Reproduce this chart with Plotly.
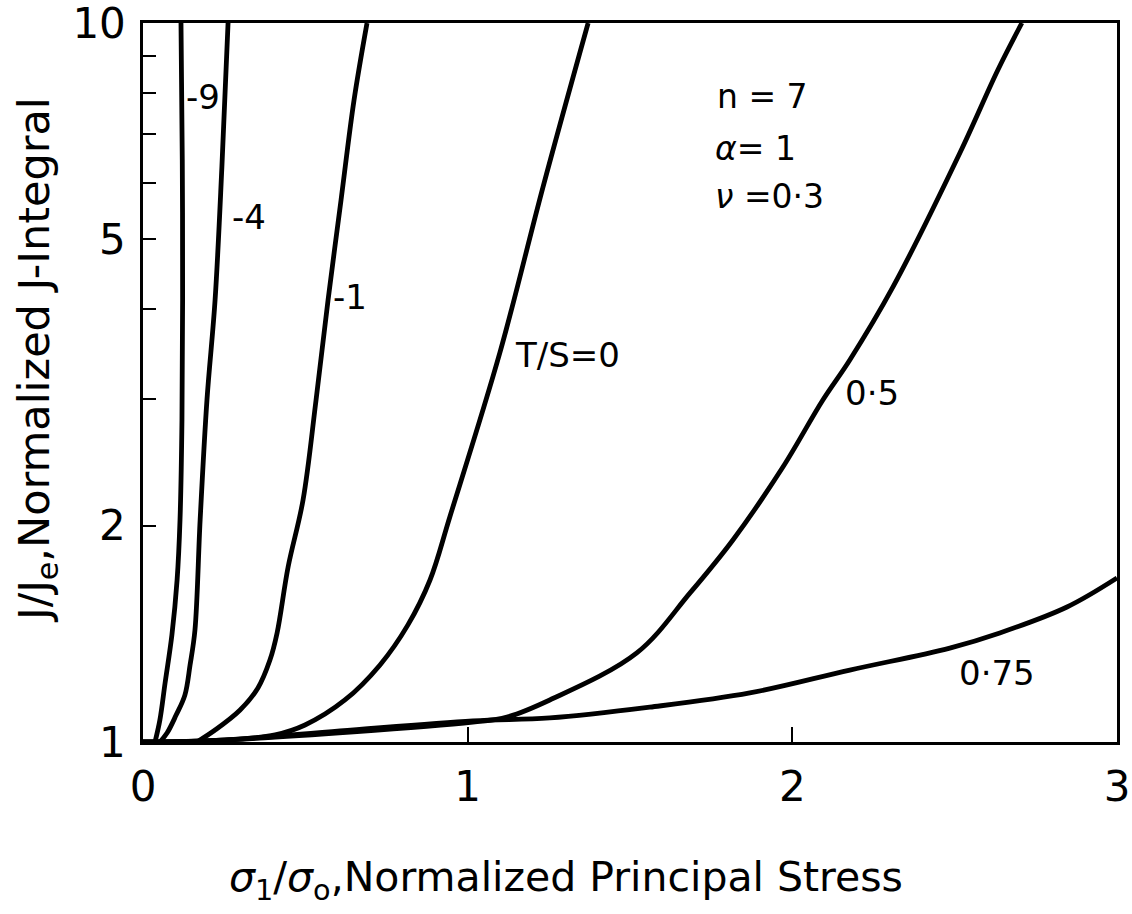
import plotly.graph_objects as go

# ---- data (x = sigma1/sigma0, y = J/Je) ----
x_m9 = [0.037, 0.052, 0.068, 0.089, 0.105, 0.114, 0.120, 0.122, 0.121, 0.117]
y_m9 = [1.0, 1.073, 1.208, 1.409, 1.680, 2.036, 2.804, 4.119, 6.449, 10.0]

x_m4 = [0.052, 0.074, 0.102, 0.129, 0.145, 0.160, 0.176, 0.197, 0.222, 0.243, 0.262]
y_m4 = [1.0, 1.029, 1.090, 1.162, 1.280, 1.431, 2.036, 2.990, 4.119, 6.306, 10.0]

x_m1 = [0.166, 0.222, 0.299, 0.354, 0.391, 0.413, 0.447, 0.493, 0.533, 0.570, 0.610, 0.650, 0.690]
y_m1 = [1.0, 1.039, 1.108, 1.189, 1.300, 1.418, 1.752, 2.171, 2.990, 4.119, 5.674, 7.813, 10.0]

x_0 = [0.0, 0.246, 0.407, 0.499, 0.622, 0.730, 0.816, 0.884, 0.945, 1.099, 1.232, 1.371]
y_0 = [1.0, 1.006, 1.023, 1.056, 1.144, 1.280, 1.455, 1.680, 2.056, 3.476, 5.913, 10.0]

x_05 = [0.0, 0.246, 1.016, 1.121, 1.253, 1.521, 1.685, 1.817, 1.971, 2.094, 2.177, 2.310, 2.516, 2.633, 2.707]
y_05 = [1.0, 1.006, 1.066, 1.083, 1.144, 1.330, 1.612, 1.910, 2.412, 2.990, 3.399, 4.295, 6.595, 8.604, 10.0]

x_075 = [0.0, 0.246, 0.607, 1.016, 1.253, 1.561, 1.869, 2.177, 2.485, 2.639, 2.846, 3.0]
y_075 = [1.0, 1.006, 1.036, 1.070, 1.080, 1.118, 1.170, 1.259, 1.351, 1.418, 1.541, 1.691]

series = [
    ("T/S=-9", x_m9, y_m9),
    ("T/S=-4", x_m4, y_m4),
    ("T/S=-1", x_m1, y_m1),
    ("T/S=0", x_0, y_0),
    ("T/S=0.5", x_05, y_05),
    ("T/S=0.75", x_075, y_075),
]

x_tick_vals = [0, 1, 2, 3]
x_tick_text = ["0", "1", "2", "3"]
y_tick_vals = [1, 2, 5, 10]
y_tick_text = ["1", "2", "5", "10"]
y_minor_vals = [3, 4, 6, 7, 8, 9]

FONT = "DejaVu Sans"
W, H = 1132, 914
ML, MR, MT, MB = 143, 15, 23, 172
PW, PH = W - ML - MR, H - MT - MB


def px(xp):
    return (xp - ML) / PW


def py(yp):
    return (H - MB - yp) / PH


fig = go.Figure()
for name, xs, ys in series:
    fig.add_trace(go.Scatter(
        x=xs, y=ys, mode="lines", name=name,
        line=dict(color="black", width=4.8, shape="spline", smoothing=1.0),
        showlegend=False, hoverinfo="skip",
    ))

labels = [
    ("-9", 203, 97, 34),
    ("-4", 249, 217, 34),
    ("-1", 350, 297, 34),
    ("T/S=0", 567, 355, 34),
    ("0·5", 872, 393, 34),
    ("0·75", 997, 673, 34),
    ("n = 7", 715, 96, 33),
    ("<i>α</i>= 1", 713, 148, 33),
    ("<i>ν</i> =0·3", 713, 196, 33),
]
annotations = []
for text, x0, y0, size in labels:
    left = text.startswith("n") or text.startswith("<i>")
    annotations.append(dict(
        text=text, xref="paper", yref="paper",
        x=px(x0), y=py(y0),
        xanchor="left" if left else "center", yanchor="middle",
        showarrow=False, font=dict(family=FONT, size=size, color="black"),
    ))

annotations.append(dict(
    text="<i>σ</i><sub>1</sub>/<i>σ</i><sub>o</sub>,Normalized Principal Stress",
    xref="paper", yref="paper", x=px(566), y=py(880),
    xanchor="center", yanchor="middle", showarrow=False,
    font=dict(family=FONT, size=41, color="black"),
))
annotations.append(dict(
    text="J/J<sub>e</sub>,Normalized J-Integral",
    xref="paper", yref="paper", x=px(37), y=py(360),
    xanchor="center", yanchor="middle", showarrow=False, textangle=-90,
    font=dict(family=FONT, size=43, color="black"),
))

fig.update_layout(
    width=W, height=H, autosize=False,
    margin=dict(l=ML, r=MR, t=MT, b=MB, pad=0),
    paper_bgcolor="white", plot_bgcolor="white",
    font=dict(family=FONT, color="black"),
    annotations=annotations,
    xaxis=dict(
        range=[0, 3], showgrid=False, zeroline=False, automargin=False,
        showline=True, linecolor="black", linewidth=2.5, mirror=True,
        ticks="inside", ticklen=15, tickwidth=2, tickcolor="black",
        tickvals=x_tick_vals, ticktext=x_tick_text,
        tickfont=dict(family=FONT, size=42, color="black"),
        ticklabelstandoff=6, ticklabeloverflow="allow",
    ),
    yaxis=dict(
        type="log", range=[0, 1], showgrid=False, zeroline=False, automargin=False,
        showline=True, linecolor="black", linewidth=2.5, mirror=True,
        ticks="inside", ticklen=13, tickwidth=2, tickcolor="black",
        tickvals=y_tick_vals, ticktext=y_tick_text,
        tickfont=dict(family=FONT, size=42, color="black"),
        ticklabelstandoff=6, ticklabeloverflow="allow",
        minor=dict(tickvals=y_minor_vals, ticks="inside", ticklen=13,
                   tickwidth=2, tickcolor="black", showgrid=False),
    ),
)

fig.write_html("out.html")
